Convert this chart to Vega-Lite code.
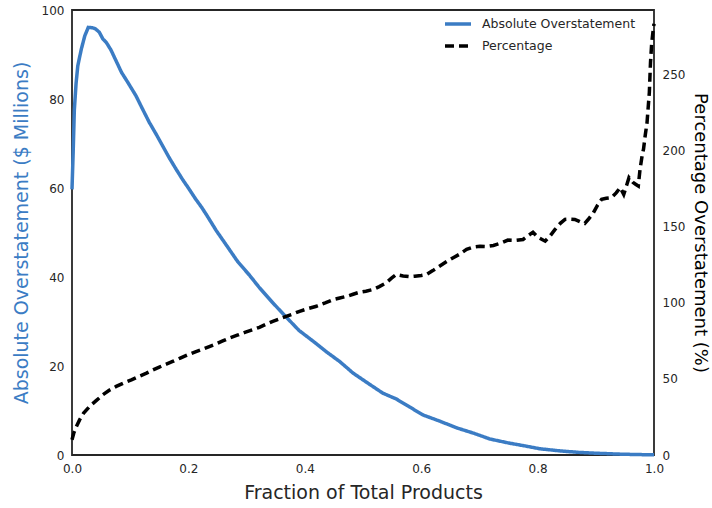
{
  "$schema": "https://vega.github.io/schema/vega-lite/v6.json",
  "width": 582,
  "height": 445,
  "autosize": {"type": "none"},
  "padding": {"left": 72, "top": 10, "right": 58, "bottom": 53},
  "background": "white",
  "config": {
    "font": "DejaVu Sans",
    "view": {"stroke": "#262626", "strokeWidth": 1.8},
    "axis": {
      "ticks": false,
      "grid": false,
      "domain": false,
      "labelFlush": false,
      "labelFontSize": 12,
      "labelColor": "#262626",
      "labelPadding": 8,
      "titleFontSize": 19,
      "titleFontWeight": "normal",
      "titleColor": "#262626"
    },
    "legend": {
      "orient": "none",
      "legendX": 371,
      "legendY": -1,
      "padding": 0,
      "labelFontSize": 12.5,
      "labelColor": "#262626",
      "labelOffset": 9,
      "symbolType": "stroke",
      "symbolSize": 676,
      "symbolStrokeWidth": 3.5,
      "rowPadding": -6
    }
  },
  "datasets": {
    "absolute": [
      {"fraction": 0.000, "overstatement": 59.7},
      {"fraction": 0.002, "overstatement": 68.0},
      {"fraction": 0.004, "overstatement": 77.5},
      {"fraction": 0.007, "overstatement": 83.5},
      {"fraction": 0.010, "overstatement": 87.5},
      {"fraction": 0.016, "overstatement": 91.2},
      {"fraction": 0.022, "overstatement": 94.2},
      {"fraction": 0.028, "overstatement": 96.1},
      {"fraction": 0.035, "overstatement": 96.0},
      {"fraction": 0.040, "overstatement": 95.8},
      {"fraction": 0.047, "overstatement": 95.0},
      {"fraction": 0.053, "overstatement": 93.5},
      {"fraction": 0.059, "overstatement": 92.7},
      {"fraction": 0.067, "overstatement": 91.0},
      {"fraction": 0.076, "overstatement": 88.5},
      {"fraction": 0.085, "overstatement": 86.0},
      {"fraction": 0.097, "overstatement": 83.5},
      {"fraction": 0.110, "overstatement": 80.7},
      {"fraction": 0.121, "overstatement": 77.8},
      {"fraction": 0.133, "overstatement": 74.7},
      {"fraction": 0.145, "overstatement": 72.0},
      {"fraction": 0.156, "overstatement": 69.4},
      {"fraction": 0.167, "overstatement": 66.8},
      {"fraction": 0.179, "overstatement": 64.2},
      {"fraction": 0.190, "overstatement": 61.9},
      {"fraction": 0.200, "overstatement": 60.0},
      {"fraction": 0.212, "overstatement": 57.6},
      {"fraction": 0.222, "overstatement": 55.8},
      {"fraction": 0.231, "overstatement": 54.0},
      {"fraction": 0.248, "overstatement": 50.4},
      {"fraction": 0.265, "overstatement": 47.2},
      {"fraction": 0.285, "overstatement": 43.4},
      {"fraction": 0.305, "overstatement": 40.4},
      {"fraction": 0.322, "overstatement": 37.6},
      {"fraction": 0.345, "overstatement": 34.2},
      {"fraction": 0.368, "overstatement": 31.0},
      {"fraction": 0.390, "overstatement": 28.0},
      {"fraction": 0.415, "overstatement": 25.5},
      {"fraction": 0.437, "overstatement": 23.2},
      {"fraction": 0.460, "overstatement": 21.0},
      {"fraction": 0.483, "overstatement": 18.4},
      {"fraction": 0.510, "overstatement": 16.0},
      {"fraction": 0.534, "overstatement": 13.9},
      {"fraction": 0.557, "overstatement": 12.6},
      {"fraction": 0.580, "overstatement": 10.8},
      {"fraction": 0.603, "overstatement": 9.0},
      {"fraction": 0.632, "overstatement": 7.6},
      {"fraction": 0.661, "overstatement": 6.1},
      {"fraction": 0.690, "overstatement": 4.9},
      {"fraction": 0.718, "overstatement": 3.6},
      {"fraction": 0.750, "overstatement": 2.7},
      {"fraction": 0.780, "overstatement": 2.0},
      {"fraction": 0.804, "overstatement": 1.4},
      {"fraction": 0.840, "overstatement": 0.9},
      {"fraction": 0.870, "overstatement": 0.6},
      {"fraction": 0.900, "overstatement": 0.4},
      {"fraction": 0.940, "overstatement": 0.2},
      {"fraction": 0.970, "overstatement": 0.1},
      {"fraction": 1.000, "overstatement": 0.05}
    ],
    "percentage": [
      {"fraction": 0.000, "percent": 10.0},
      {"fraction": 0.003, "percent": 14.3},
      {"fraction": 0.008, "percent": 19.0},
      {"fraction": 0.013, "percent": 23.0},
      {"fraction": 0.020, "percent": 27.5},
      {"fraction": 0.030, "percent": 31.8},
      {"fraction": 0.041, "percent": 35.5},
      {"fraction": 0.053, "percent": 39.5},
      {"fraction": 0.064, "percent": 42.5},
      {"fraction": 0.076, "percent": 45.0},
      {"fraction": 0.089, "percent": 47.3},
      {"fraction": 0.102, "percent": 49.3},
      {"fraction": 0.115, "percent": 51.6},
      {"fraction": 0.128, "percent": 53.7},
      {"fraction": 0.139, "percent": 55.8},
      {"fraction": 0.150, "percent": 57.7},
      {"fraction": 0.162, "percent": 59.6},
      {"fraction": 0.173, "percent": 61.4},
      {"fraction": 0.186, "percent": 63.6},
      {"fraction": 0.199, "percent": 65.8},
      {"fraction": 0.212, "percent": 67.7},
      {"fraction": 0.225, "percent": 69.5},
      {"fraction": 0.237, "percent": 71.3},
      {"fraction": 0.248, "percent": 73.0},
      {"fraction": 0.260, "percent": 75.0},
      {"fraction": 0.271, "percent": 76.8},
      {"fraction": 0.284, "percent": 78.6},
      {"fraction": 0.297, "percent": 80.5},
      {"fraction": 0.310, "percent": 82.2},
      {"fraction": 0.322, "percent": 83.8},
      {"fraction": 0.333, "percent": 85.8},
      {"fraction": 0.345, "percent": 87.7},
      {"fraction": 0.357, "percent": 89.4},
      {"fraction": 0.368, "percent": 91.0},
      {"fraction": 0.380, "percent": 92.6},
      {"fraction": 0.391, "percent": 94.3},
      {"fraction": 0.405, "percent": 96.0},
      {"fraction": 0.420, "percent": 97.6},
      {"fraction": 0.435, "percent": 99.8},
      {"fraction": 0.449, "percent": 102.0},
      {"fraction": 0.460, "percent": 103.0},
      {"fraction": 0.472, "percent": 104.1},
      {"fraction": 0.483, "percent": 105.5},
      {"fraction": 0.494, "percent": 106.8},
      {"fraction": 0.505, "percent": 107.5},
      {"fraction": 0.517, "percent": 108.6},
      {"fraction": 0.528, "percent": 110.5},
      {"fraction": 0.540, "percent": 113.0},
      {"fraction": 0.549, "percent": 116.0},
      {"fraction": 0.557, "percent": 118.4},
      {"fraction": 0.569, "percent": 117.5},
      {"fraction": 0.580, "percent": 117.0},
      {"fraction": 0.589, "percent": 117.3},
      {"fraction": 0.600, "percent": 117.8},
      {"fraction": 0.609, "percent": 118.4},
      {"fraction": 0.620, "percent": 121.0},
      {"fraction": 0.632, "percent": 124.0},
      {"fraction": 0.644, "percent": 127.0},
      {"fraction": 0.655, "percent": 129.4},
      {"fraction": 0.667, "percent": 132.0},
      {"fraction": 0.678, "percent": 134.9},
      {"fraction": 0.690, "percent": 136.5},
      {"fraction": 0.701, "percent": 137.0},
      {"fraction": 0.713, "percent": 136.8},
      {"fraction": 0.724, "percent": 137.5},
      {"fraction": 0.737, "percent": 139.0},
      {"fraction": 0.749, "percent": 141.0},
      {"fraction": 0.762, "percent": 140.8},
      {"fraction": 0.775, "percent": 141.4},
      {"fraction": 0.784, "percent": 144.0},
      {"fraction": 0.792, "percent": 146.2},
      {"fraction": 0.800, "percent": 143.0},
      {"fraction": 0.813, "percent": 140.3},
      {"fraction": 0.822, "percent": 144.0},
      {"fraction": 0.830, "percent": 148.0},
      {"fraction": 0.839, "percent": 152.0},
      {"fraction": 0.847, "percent": 154.6},
      {"fraction": 0.856, "percent": 154.8},
      {"fraction": 0.864, "percent": 154.6},
      {"fraction": 0.873, "percent": 153.0},
      {"fraction": 0.881, "percent": 152.0},
      {"fraction": 0.888, "percent": 155.0},
      {"fraction": 0.896, "percent": 159.0},
      {"fraction": 0.903, "percent": 164.0},
      {"fraction": 0.910, "percent": 167.8},
      {"fraction": 0.918, "percent": 168.5},
      {"fraction": 0.927, "percent": 168.9},
      {"fraction": 0.935, "percent": 172.0},
      {"fraction": 0.942, "percent": 175.5},
      {"fraction": 0.948, "percent": 171.0},
      {"fraction": 0.953, "percent": 177.0},
      {"fraction": 0.957, "percent": 182.0},
      {"fraction": 0.964, "percent": 178.8},
      {"fraction": 0.969, "percent": 177.5},
      {"fraction": 0.973, "percent": 176.5},
      {"fraction": 0.976, "percent": 187.5},
      {"fraction": 0.980, "percent": 197.4},
      {"fraction": 0.982, "percent": 200.7},
      {"fraction": 0.985, "percent": 210.0},
      {"fraction": 0.988, "percent": 218.0},
      {"fraction": 0.990, "percent": 228.0},
      {"fraction": 0.992, "percent": 238.0},
      {"fraction": 0.994, "percent": 257.7},
      {"fraction": 0.996, "percent": 270.0},
      {"fraction": 0.998, "percent": 277.0},
      {"fraction": 1.000, "percent": 283.0}
    ]
  },
  "encoding": {
    "x": {
      "field": "fraction",
      "type": "quantitative",
      "scale": {"domain": [0, 1], "nice": false},
      "axis": {
        "title": "Fraction of Total Products",
        "values": [0, 0.2, 0.4, 0.6, 0.8, 1],
        "format": ".1f",
        "titlePadding": 9
      }
    }
  },
  "layer": [
    {
      "data": {"name": "absolute"},
      "mark": {"type": "line", "strokeWidth": 3.5, "strokeCap": "butt"},
      "encoding": {
        "y": {
          "field": "overstatement",
          "type": "quantitative",
          "scale": {"domain": [0, 100], "nice": false},
          "axis": {
            "orient": "left",
            "title": "Absolute Overstatement ($ Millions)",
            "titleColor": "#3b7cc4",
            "values": [0, 20, 40, 60, 80, 100],
            "titlePadding": 10
          }
        },
        "color": {
          "datum": "Absolute Overstatement",
          "type": "nominal",
          "scale": {"domain": ["Absolute Overstatement", "Percentage"], "range": ["#3b7cc4", "#000000"]},
          "legend": {"title": null}
        },
        "strokeDash": {
          "datum": "Absolute Overstatement",
          "type": "nominal",
          "scale": {"domain": ["Absolute Overstatement", "Percentage"], "range": [[1, 0], [9, 5]]},
          "legend": {"title": null}
        }
      }
    },
    {
      "data": {"name": "percentage"},
      "mark": {"type": "line", "strokeWidth": 3.5, "strokeCap": "butt"},
      "encoding": {
        "y": {
          "field": "percent",
          "type": "quantitative",
          "scale": {"domain": [0, 292], "nice": false},
          "axis": {
            "orient": "right",
            "title": "Percentage Overstatement (%)",
            "titleColor": "#000000",
            "titleFontSize": 18,
            "values": [0, 50, 100, 150, 200, 250],
            "titlePadding": 6
          }
        },
        "color": {"datum": "Percentage", "type": "nominal"},
        "strokeDash": {"datum": "Percentage", "type": "nominal"}
      }
    }
  ],
  "resolve": {"scale": {"y": "independent"}}
}
